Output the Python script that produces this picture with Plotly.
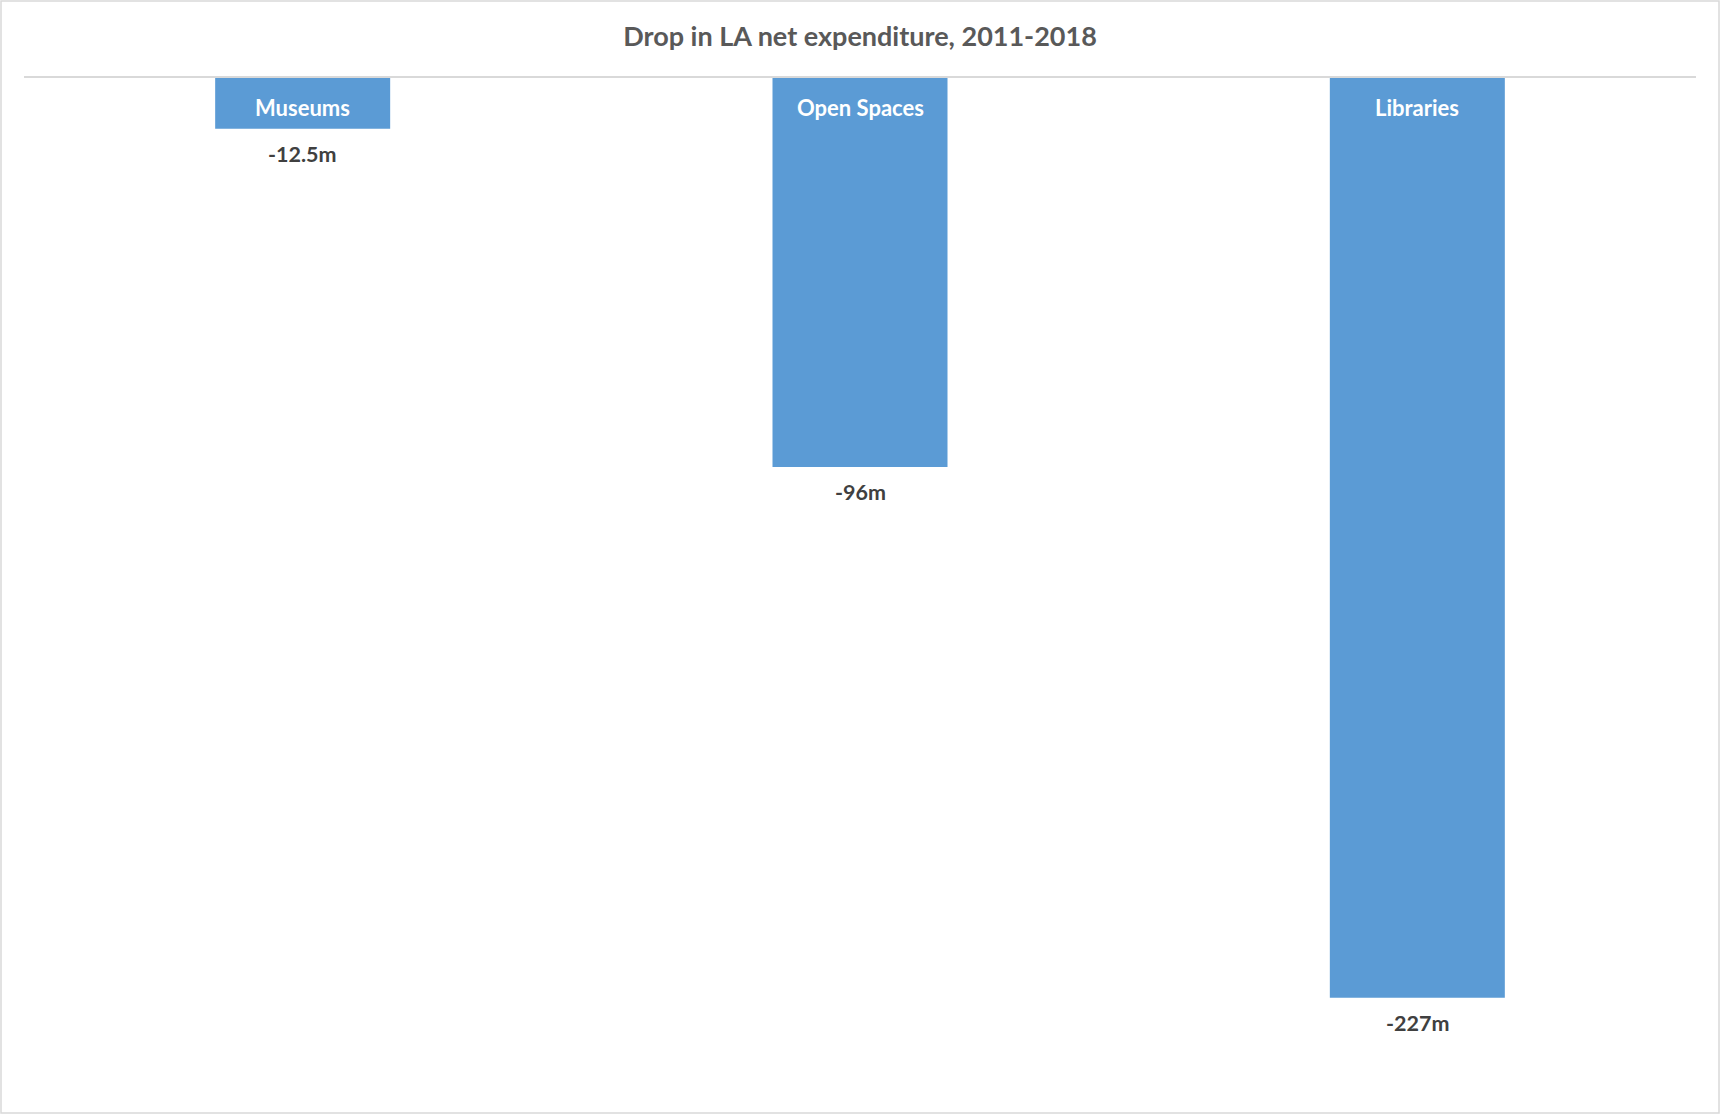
import plotly.graph_objects as go

categories = ["Museums", "Open Spaces", "Libraries"]
values = [-12.5, -96, -227]
value_labels = ["-12.5m", "-96m", "-227m"]

W, H = 1720, 1114
ML, MR, MT, MB = 24, 24, 78, 23
FONT = "Lato, Carlito, sans-serif"

fig = go.Figure()
fig.add_trace(go.Bar(
    x=categories, y=values,
    marker=dict(color="#5b9bd5", line=dict(width=0)),
    hoverinfo="skip",
))

for c, v, lab in zip(categories, values, value_labels):
    # category name inside the bar, near its base
    fig.add_annotation(x=c, y=0, text=c, showarrow=False, yanchor="middle", yshift=-29,
                       font=dict(family=FONT, size=22, color="white", weight="bold"))
    # value label just below the bar end
    fig.add_annotation(x=c, y=v, text=lab, showarrow=False, yanchor="top", yshift=-10,
                       font=dict(family=FONT, size=21.5, color="#404040", weight="bold"))

pw = W - ML - MR
ph = H - MT - MB
fig.add_shape(type="rect", xref="paper", yref="paper",
              x0=(-ML + 1) / pw, x1=1 + (MR - 1) / pw,
              y0=(-MB + 1) / ph, y1=1 + (MT - 1) / ph,
              line=dict(color="#d9d9d9", width=1.5), fillcolor="rgba(0,0,0,0)", layer="below")

fig.update_layout(
    width=W, height=H,
    margin=dict(l=ML, r=MR, t=MT, b=MB, pad=0),
    paper_bgcolor="white", plot_bgcolor="white",
    bargap=0.686,
    showlegend=False,
    title=dict(text="Drop in LA net expenditure, 2011-2018", x=0.5, xanchor="center",
               y=1 - 37 / H, yanchor="middle", yref="container",
               font=dict(family=FONT, size=27, color="#595959", weight="bold")),
    xaxis=dict(side="top", showline=True, linecolor="#d9d9d9", linewidth=1.5,
               showticklabels=False, ticks="", showgrid=False, zeroline=False, fixedrange=True),
    yaxis=dict(range=[-250, 0], visible=False, showgrid=False, zeroline=False, fixedrange=True),
)

fig.write_html("out.html", config={"displayModeBar": False},
               post_script="document.body.style.margin='0';document.body.style.overflow='hidden';")
